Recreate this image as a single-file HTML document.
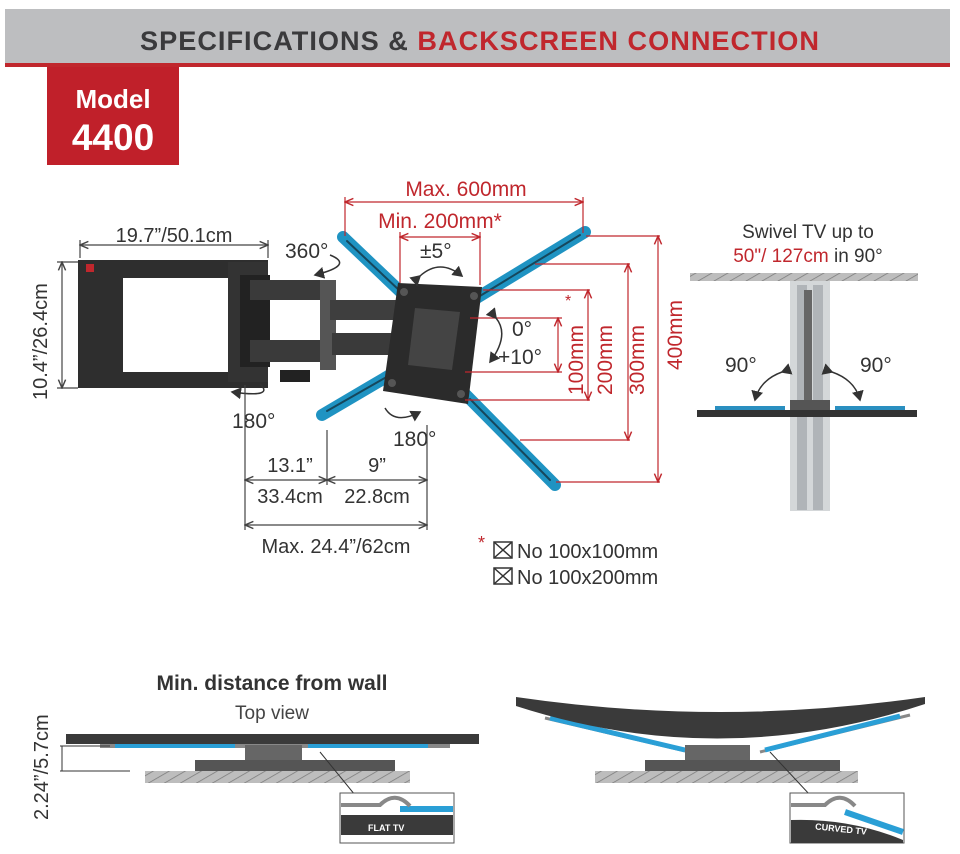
<!DOCTYPE html>
<html><head><meta charset="utf-8"><style>
html,body{margin:0;padding:0;background:#fff;}
svg{display:block;font-family:"Liberation Sans",sans-serif;}
</style></head><body>
<svg width="960" height="854" viewBox="0 0 960 854" xmlns="http://www.w3.org/2000/svg">
<defs>
<pattern id="hatch" width="8" height="8" patternUnits="userSpaceOnUse" patternTransform="rotate(60)">
<rect width="8" height="8" fill="#bdbdbd"/><line x1="0" y1="0" x2="0" y2="8" stroke="#7a7a7a" stroke-width="1.5"/></pattern>
<marker id="ar" markerWidth="8" markerHeight="8" refX="7" refY="4" orient="auto"><path d="M0,1 L7,4 L0,7" fill="none" stroke="#c0272d" stroke-width="1.2"/></marker>
<marker id="al" markerWidth="8" markerHeight="8" refX="1" refY="4" orient="auto"><path d="M8,1 L1,4 L8,7" fill="none" stroke="#c0272d" stroke-width="1.2"/></marker>
<marker id="gr" markerWidth="8" markerHeight="8" refX="7" refY="4" orient="auto"><path d="M0,1 L7,4 L0,7" fill="none" stroke="#444" stroke-width="1.2"/></marker>
<marker id="gl" markerWidth="8" markerHeight="8" refX="1" refY="4" orient="auto"><path d="M8,1 L1,4 L8,7" fill="none" stroke="#444" stroke-width="1.2"/></marker>
<marker id="ka" markerWidth="8" markerHeight="8" refX="6" refY="4" orient="auto"><path d="M0,0 L7,4 L0,8z" fill="#333"/></marker>
</defs>
<rect x="5" y="9" width="945" height="55" fill="#bdbec0"/>
<rect x="5" y="63" width="945" height="4" fill="#c0272d"/>
<text x="480" y="50" text-anchor="middle" font-size="27" font-weight="bold" fill="#3a3a3c" letter-spacing="1" textLength="680" lengthAdjust="spacingAndGlyphs">SPECIFICATIONS &amp; <tspan fill="#c0272d">BACKSCREEN CONNECTION</tspan></text>
<rect x="47" y="67" width="132" height="98" fill="#c0202a"/>
<text x="113" y="108" text-anchor="middle" font-size="26" font-weight="bold" fill="#fff">Model</text>
<text x="113" y="150" text-anchor="middle" font-size="37" font-weight="bold" fill="#fff">4400</text>

<rect x="78" y="260" width="45" height="128" fill="#2e2e2e"/>
<rect x="78" y="260" width="190" height="18" fill="#2e2e2e"/>
<rect x="78" y="372" width="190" height="16" fill="#2e2e2e"/>
<rect x="228" y="262" width="40" height="120" fill="#333"/>
<rect x="240" y="275" width="30" height="92" fill="#222"/>
<rect x="250" y="280" width="80" height="20" fill="#3a3a3a"/>
<rect x="250" y="340" width="80" height="22" fill="#3a3a3a"/>
<rect x="320" y="280" width="16" height="90" fill="#555"/>
<rect x="330" y="300" width="70" height="20" fill="#3e3e3e"/>
<rect x="332" y="333" width="60" height="22" fill="#3a3a3a"/>
<rect x="280" y="370" width="30" height="12" fill="#222"/>
<rect x="86" y="264" width="8" height="8" fill="#c0272d"/>

<g stroke-linecap="round">
<line x1="343" y1="237" x2="405" y2="296" stroke="#1f93c2" stroke-width="12"/>
<line x1="585" y1="232" x2="470" y2="302" stroke="#1f93c2" stroke-width="12"/>
<line x1="322" y1="415" x2="395" y2="372" stroke="#1f93c2" stroke-width="12"/>
<line x1="466" y1="395" x2="555" y2="485" stroke="#1f93c2" stroke-width="12"/>
<line x1="347" y1="241" x2="400" y2="291" stroke="#16475c" stroke-width="2"/>
<line x1="580" y1="235" x2="475" y2="299" stroke="#16475c" stroke-width="2"/>
<line x1="327" y1="411" x2="390" y2="375" stroke="#16475c" stroke-width="2"/>
<line x1="470" y1="399" x2="550" y2="480" stroke="#16475c" stroke-width="2"/>
</g>
<polygon points="398,283 482,287 468,404 383,391" fill="#2b2b2b"/>
<polygon points="415,308 460,312 452,370 408,365" fill="#444"/>
<circle cx="404" cy="292" r="4" fill="#555"/><circle cx="474" cy="296" r="4" fill="#555"/>
<circle cx="392" cy="383" r="4" fill="#555"/><circle cx="461" cy="394" r="4" fill="#555"/>

<g stroke="#c0272d" stroke-width="1.2" fill="none">
<line x1="345" y1="202" x2="583" y2="202" marker-start="url(#al)" marker-end="url(#ar)"/>
<line x1="345" y1="197" x2="345" y2="236"/><line x1="583" y1="197" x2="583" y2="233"/>
<line x1="400" y1="237" x2="480" y2="237" marker-start="url(#al)" marker-end="url(#ar)"/>
<line x1="400" y1="232" x2="400" y2="283"/><line x1="480" y1="232" x2="480" y2="285"/>
<line x1="586" y1="236" x2="660" y2="236"/>
<line x1="535" y1="264" x2="630" y2="264"/>
<line x1="483" y1="290" x2="590" y2="290"/>
<line x1="470" y1="318" x2="562" y2="318"/>
<line x1="465" y1="372" x2="562" y2="372"/>
<line x1="465" y1="400" x2="590" y2="400"/>
<line x1="520" y1="440" x2="630" y2="440"/>
<line x1="556" y1="482" x2="660" y2="482"/>
<line x1="558" y1="318" x2="558" y2="372" marker-start="url(#al)" marker-end="url(#ar)"/>
<line x1="588" y1="290" x2="588" y2="400" marker-start="url(#al)" marker-end="url(#ar)"/>
<line x1="628" y1="264" x2="628" y2="440" marker-start="url(#al)" marker-end="url(#ar)"/>
<line x1="658" y1="236" x2="658" y2="482" marker-start="url(#al)" marker-end="url(#ar)"/>
</g>
<g fill="#c0272d" font-size="21">
<text x="466" y="196" text-anchor="middle">Max. 600mm</text>
<text x="440" y="228" text-anchor="middle">Min. 200mm*</text>
<text transform="translate(583,395) rotate(-90)">100mm</text>
<text x="565" y="306" font-size="16">*</text>
<text transform="translate(612,395) rotate(-90)">200mm</text>
<text transform="translate(644,395) rotate(-90)">300mm</text>
<text transform="translate(682,370) rotate(-90)">400mm</text>
</g>
<g fill="#333" font-size="21">
<text x="420" y="258">±5°</text>
<text x="512" y="336">0°</text>
<text x="498" y="364">+10°</text>
<text x="285" y="258">360°</text>
<text x="232" y="428">180°</text>
<text x="393" y="446">180°</text>
</g>
<g fill="none" stroke="#333" stroke-width="1.5">
<path d="M420,276 Q440,258 462,276" marker-start="url(#ka)" marker-end="url(#ka)"/>
<path d="M496,318 Q510,335 490,362" marker-start="url(#ka)" marker-end="url(#ka)"/>
<path d="M330,255 Q355,265 315,275" marker-end="url(#ka)"/>
<path d="M260,384 Q275,398 232,392" marker-end="url(#ka)"/>
<path d="M385,408 Q395,425 420,412" marker-end="url(#ka)"/>
</g>

<g stroke="#444" stroke-width="1.2" fill="none">
<line x1="80" y1="245" x2="268" y2="245" marker-start="url(#gl)" marker-end="url(#gr)"/>
<line x1="80" y1="240" x2="80" y2="258"/><line x1="268" y1="240" x2="268" y2="258"/>
<line x1="62" y1="262" x2="62" y2="388" marker-start="url(#gl)" marker-end="url(#gr)"/>
<line x1="57" y1="262" x2="78" y2="262"/><line x1="57" y1="388" x2="78" y2="388"/>
<line x1="245" y1="385" x2="245" y2="530"/><line x1="327" y1="430" x2="327" y2="485"/><line x1="427" y1="425" x2="427" y2="530"/>
<line x1="245" y1="480" x2="327" y2="480" marker-start="url(#gl)" marker-end="url(#gr)"/>
<line x1="327" y1="480" x2="427" y2="480" marker-start="url(#gl)" marker-end="url(#gr)"/>
<line x1="245" y1="525" x2="427" y2="525" marker-start="url(#gl)" marker-end="url(#gr)"/>
</g>
<g fill="#333" font-size="20">
<text x="174" y="242" text-anchor="middle">19.7”/50.1cm</text>
<text transform="translate(47,400) rotate(-90)">10.4”/26.4cm</text>
<text x="290" y="472" text-anchor="middle">13.1”</text>
<text x="377" y="472" text-anchor="middle">9”</text>
<text x="290" y="503" text-anchor="middle">33.4cm</text>
<text x="377" y="503" text-anchor="middle">22.8cm</text>
<text x="336" y="553" text-anchor="middle">Max. 24.4”/62cm</text>
<text x="517" y="558">No 100x100mm</text>
<text x="517" y="584">No 100x200mm</text>
</g>
<text x="478" y="549" fill="#c0272d" font-size="18">*</text>
<g stroke="#333" stroke-width="1.5" fill="none">
<rect x="494" y="542" width="18" height="16"/><line x1="494" y1="542" x2="512" y2="558"/><line x1="512" y1="542" x2="494" y2="558"/>
<rect x="494" y="568" width="18" height="16"/><line x1="494" y1="568" x2="512" y2="584"/><line x1="512" y1="568" x2="494" y2="584"/>
</g>

<text x="808" y="238" text-anchor="middle" font-size="19" fill="#333">Swivel TV up to</text>
<text x="808" y="262" text-anchor="middle" font-size="19" fill="#333"><tspan fill="#c0272d">50"/ 127cm</tspan> in 90°</text>
<rect x="690" y="273" width="228" height="8" fill="url(#hatch)"/>
<rect x="790" y="281" width="40" height="230" fill="#d4d7d9"/>
<rect x="797" y="285" width="10" height="225" fill="#b0b4b8"/>
<rect x="813" y="285" width="10" height="225" fill="#b0b4b8"/>
<rect x="804" y="290" width="8" height="112" fill="#666"/>
<rect x="790" y="400" width="40" height="12" fill="#555"/>
<rect x="697" y="410" width="220" height="7" fill="#333"/>
<rect x="715" y="406" width="70" height="4" fill="#2a8fc0"/>
<rect x="835" y="406" width="70" height="4" fill="#2a8fc0"/>
<text x="725" y="372" font-size="21" fill="#333">90°</text>
<text x="860" y="372" font-size="21" fill="#333">90°</text>
<path d="M782,372 Q760,380 755,400" fill="none" stroke="#333" stroke-width="1.5" marker-start="url(#ka)" marker-end="url(#ka)"/>
<path d="M832,372 Q855,380 860,400" fill="none" stroke="#333" stroke-width="1.5" marker-start="url(#ka)" marker-end="url(#ka)"/>

<text x="272" y="690" text-anchor="middle" font-size="21" font-weight="bold" fill="#333">Min. distance from wall</text>
<text x="272" y="719" text-anchor="middle" font-size="19" fill="#444">Top view</text>
<text transform="translate(48,820) rotate(-90)" font-size="20" fill="#333">2.24”/5.7cm</text>
<rect x="66" y="734" width="413" height="10" fill="#3a3a3a"/>
<rect x="100" y="744" width="350" height="4" fill="#888"/>
<rect x="115" y="744" width="120" height="4" fill="#2a9fd6"/>
<rect x="308" y="744" width="120" height="4" fill="#2a9fd6"/>
<rect x="245" y="745" width="57" height="30" fill="#666"/>
<rect x="195" y="760" width="200" height="12" fill="#555"/>
<rect x="145" y="771" width="265" height="12" fill="url(#hatch)"/>
<g stroke="#333" stroke-width="1"><line x1="60" y1="746" x2="110" y2="746"/><line x1="60" y1="771" x2="130" y2="771"/><line x1="62" y1="746" x2="62" y2="771"/><line x1="320" y1="752" x2="355" y2="795"/></g>
<rect x="340" y="793" width="114" height="50" fill="#fff" stroke="#555"/>
<rect x="341" y="815" width="112" height="20" fill="#3a3a3a"/>
<rect x="400" y="806" width="53" height="6" fill="#2a9fd6"/>
<path d="M341,805 H380 Q395,790 410,806" fill="none" stroke="#888" stroke-width="4"/>
<text x="368" y="831" font-size="9" font-weight="bold" fill="#fff">FLAT TV</text>

<path d="M545,718 L690,752 M910,715 L760,752" stroke="#888" stroke-width="3"/>
<path d="M550,718 L685,750 M900,716 L765,750" stroke="#2a9fd6" stroke-width="5"/>
<path d="M516,697 Q720,727 925,697 L925,704 Q720,772 516,706z" fill="#3a3a3a"/>
<rect x="685" y="745" width="65" height="30" fill="#666"/>
<rect x="645" y="760" width="195" height="12" fill="#555"/>
<rect x="595" y="771" width="263" height="12" fill="url(#hatch)"/>
<line x1="770" y1="752" x2="810" y2="795" stroke="#333"/>
<rect x="790" y="793" width="114" height="50" fill="#fff" stroke="#555"/>
<path d="M791,820 Q850,818 903,840 L903,843 H791z" fill="#3a3a3a"/>
<path d="M845,812 L903,832" stroke="#2a9fd6" stroke-width="6"/>
<path d="M791,805 H825 Q840,790 855,806" fill="none" stroke="#888" stroke-width="4"/>
<text x="815" y="832" font-size="9" font-weight="bold" fill="#fff" transform="rotate(6 840 830)">CURVED TV</text>
</svg>
</body></html>
